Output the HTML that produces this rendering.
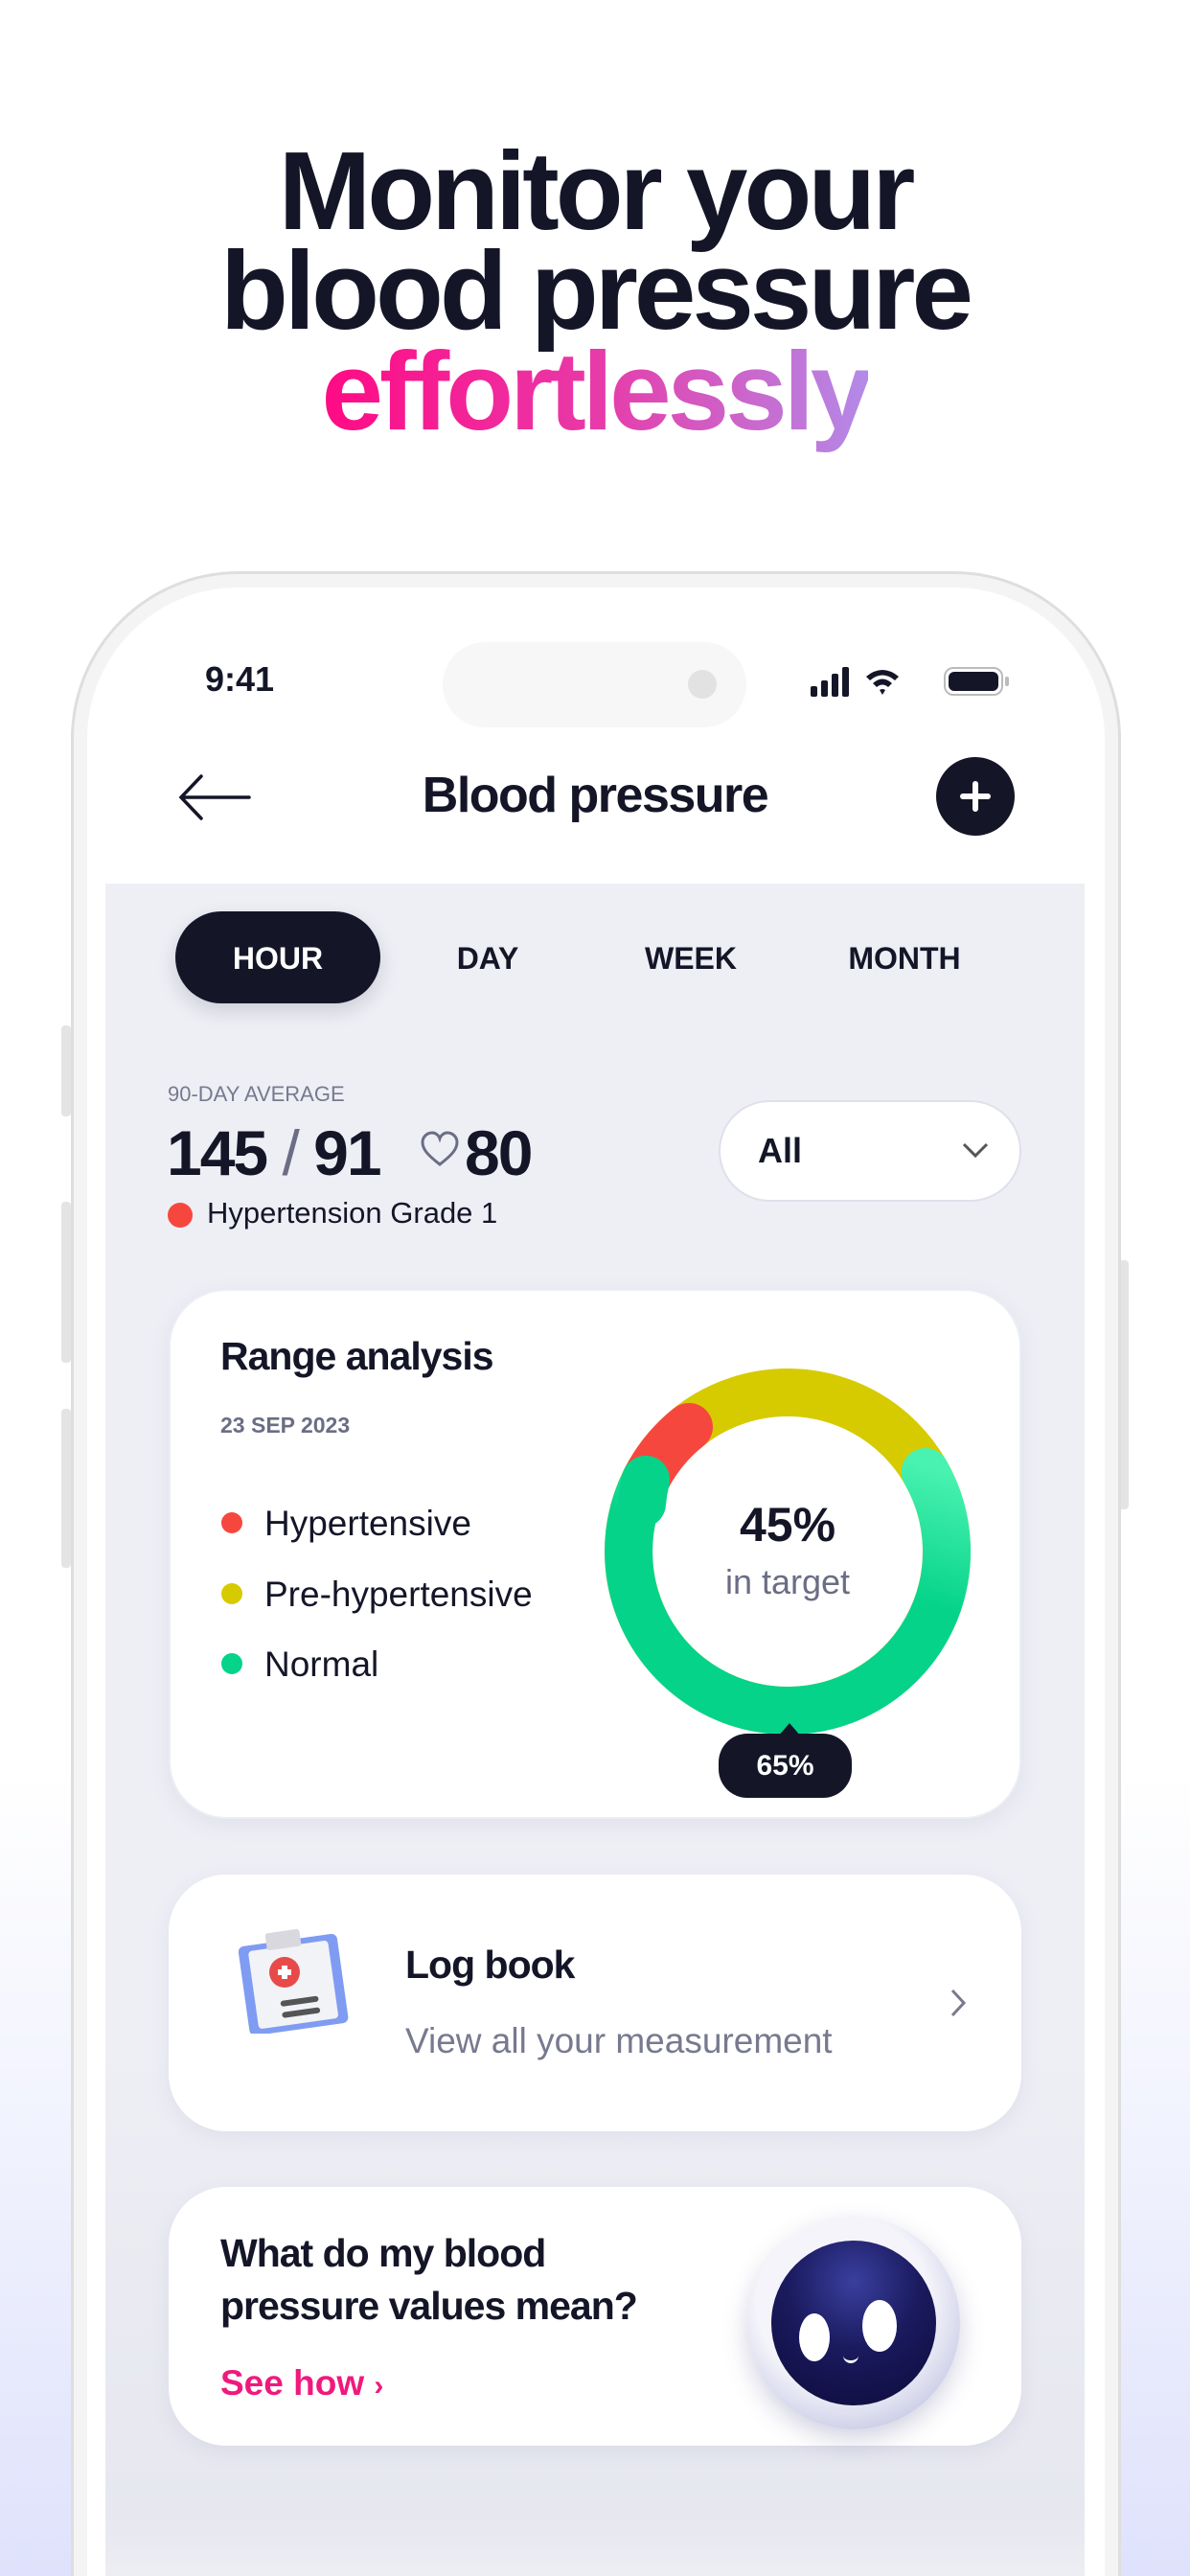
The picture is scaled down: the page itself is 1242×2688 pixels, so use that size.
<!DOCTYPE html>
<html style="width:1242px;height:2688px;overflow:hidden"><head><meta charset="utf-8"><style>
*{margin:0;padding:0;box-sizing:border-box}
body{width:1242px;height:2688px;position:relative;overflow:hidden;font-family:"Liberation Sans",sans-serif;color:#141628;
background:linear-gradient(180deg,#fff 0,#fff 1850px,#eef0fd 2300px,#dfe2fc 2688px);}
.a{position:absolute}
.h{left:0;width:1242px;text-align:center;font-weight:700;font-size:116px;letter-spacing:-4px;line-height:106px}
.grad{background:linear-gradient(90deg,#ff0a85 0%,#e83aa8 50%,#b38ae8 100%);-webkit-background-clip:text;background-clip:text;color:transparent}
.b{font-weight:700}
.card{background:#fff;border-radius:60px;box-shadow:0 6px 20px rgba(120,125,170,.12)}
</style></head><body>
<div class="a h" style="top:146px">Monitor your</div>
<div class="a h" style="top:250px">blood pressure</div>
<div class="a h" style="top:355px"><span class="grad">effortlessly</span></div>

<!-- side buttons -->
<div class="a" style="left:64px;top:1070px;width:10px;height:95px;background:#e4e4e6;border-radius:4px"></div>
<div class="a" style="left:64px;top:1254px;width:10px;height:168px;background:#e4e4e6;border-radius:4px"></div>
<div class="a" style="left:64px;top:1470px;width:10px;height:166px;background:#e4e4e6;border-radius:4px"></div>
<div class="a" style="left:1168px;top:1315px;width:10px;height:260px;background:#e4e4e6;border-radius:4px"></div>

<!-- phone -->
<div class="a" style="left:74px;top:596px;width:1096px;height:2092px;border-radius:175px 175px 0 0;background:#f4f4f5;border:3px solid #dedede;border-bottom:none"></div>
<div class="a" style="left:91px;top:613px;width:1062px;height:2075px;border-radius:158px 158px 0 0;background:#fff;overflow:hidden">
  <div class="a" style="left:19px;top:309px;width:1022px;height:1766px;background:linear-gradient(180deg,#eeeff5 0,#eeeff5 1200px,#e6e7ef 1700px,#eceef3 1766px)"></div>
</div>

<!-- status -->
<div class="a b" style="left:214px;top:688px;font-size:36px">9:41</div>
<div class="a" style="left:462px;top:670px;width:317px;height:89px;border-radius:45px;background:#f7f7f7"></div>
<div class="a" style="left:718px;top:699px;width:30px;height:30px;border-radius:50%;background:#e2e2e2"></div>
<svg class="a" style="left:846px;top:694px" width="215" height="36" viewBox="0 0 215 36">
 <rect x="0" y="22" width="7" height="11" rx="2" fill="#141628"/><rect x="11" y="16" width="7" height="17" rx="2" fill="#141628"/>
 <rect x="22" y="9" width="7" height="24" rx="2" fill="#141628"/><rect x="33" y="2" width="7" height="31" rx="2" fill="#141628"/>
 <path d="M58 12 Q75 -2 92 12 L88 16 Q75 5 62 16Z M65 19 Q75 10 85 19 L81 23 Q75 18 69 23Z M72 26 L75 31 L78 26 Q75 24 72 26Z" fill="#141628"/>
 <rect x="140" y="3" width="60" height="28" rx="9" fill="none" stroke="#bbb" stroke-width="2"/>
 <rect x="144" y="7" width="52" height="20" rx="6" fill="#141628"/><rect x="203" y="12" width="4" height="10" rx="2" fill="#bbb"/>
</svg>

<!-- nav -->
<svg class="a" style="left:186px;top:808px" width="76" height="48" viewBox="0 0 76 48"><path d="M74 24H4 M24 2 L3 24 L24 46" fill="none" stroke="#141628" stroke-width="3.5" stroke-linecap="round"/></svg>
<div class="a b" style="left:0;width:1242px;text-align:center;top:800px;font-size:52px;letter-spacing:-1.5px">Blood pressure</div>
<div class="a" style="left:977px;top:790px;width:82px;height:82px;border-radius:50%;background:#141628"></div>
<div class="a" style="left:1002px;top:828px;width:32px;height:6px;background:#fff;border-radius:3px"></div>
<div class="a" style="left:1015px;top:815px;width:6px;height:32px;background:#fff;border-radius:3px"></div>

<!-- tabs -->
<div class="a" style="left:183px;top:951px;width:214px;height:96px;border-radius:48px;background:#141628;box-shadow:0 8px 20px rgba(20,22,40,.15)"></div>
<div class="a b" style="left:183px;width:214px;text-align:center;top:982px;font-size:32px;color:#fff">HOUR</div>
<div class="a b" style="left:409px;width:200px;text-align:center;top:982px;font-size:32px">DAY</div>
<div class="a b" style="left:621px;width:200px;text-align:center;top:982px;font-size:32px">WEEK</div>
<div class="a b" style="left:844px;width:200px;text-align:center;top:982px;font-size:32px">MONTH</div>

<!-- average -->
<div class="a" style="left:175px;top:1129px;font-size:22px;color:#77798f">90-DAY AVERAGE</div>
<div class="a b" style="left:174px;top:1165px;font-size:66px;letter-spacing:-2px">145 <span style="color:#6b6d85;font-weight:400">/</span> 91</div>
<svg class="a" style="left:438px;top:1180px" width="42" height="38" viewBox="0 0 42 38"><path d="M21 35 C8 25 3 19 3 12 C3 6 8 2 13 2 C17 2 20 5 21 8 C22 5 25 2 29 2 C34 2 39 6 39 12 C39 19 34 25 21 35Z" fill="none" stroke="#6b6d85" stroke-width="3"/></svg>
<div class="a b" style="left:485px;top:1165px;font-size:66px;letter-spacing:-2px">80</div>
<div class="a" style="left:175px;top:1255px;width:26px;height:26px;border-radius:50%;background:#f6473f"></div>
<div class="a" style="left:216px;top:1248px;font-size:31px">Hypertension Grade 1</div>
<div class="a" style="left:750px;top:1148px;width:316px;height:106px;border-radius:53px;background:#fff;border:2px solid #dfe0ea"></div>
<div class="a b" style="left:791px;top:1180px;font-size:36px">All</div>
<svg class="a" style="left:1003px;top:1190px" width="30" height="20" viewBox="0 0 30 20"><path d="M3 4 L15 16 L27 4" fill="none" stroke="#555" stroke-width="3"/></svg>

<!-- range card -->
<div class="a card" style="left:176px;top:1345px;width:890px;height:553px;border:2px solid #eceef4"></div>
<div class="a b" style="left:230px;top:1392px;font-size:41px;letter-spacing:-1px">Range analysis</div>
<div class="a b" style="left:230px;top:1474px;font-size:23px;color:#6b6d85">23 SEP 2023</div>
<div class="a" style="left:231px;top:1578px;width:22px;height:22px;border-radius:50%;background:#f6473f"></div>
<div class="a" style="left:231px;top:1652px;width:22px;height:22px;border-radius:50%;background:#d6cb00"></div>
<div class="a" style="left:231px;top:1725px;width:22px;height:22px;border-radius:50%;background:#05d38a"></div>
<div class="a" style="left:276px;top:1569px;font-size:37px">Hypertensive</div>
<div class="a" style="left:276px;top:1643px;font-size:37px">Pre-hypertensive</div>
<div class="a" style="left:276px;top:1716px;font-size:37px">Normal</div>
<svg class="a" style="left:622px;top:1419px" width="400" height="400" viewBox="0 0 400 400">
 <defs><linearGradient id="g" x1="1" y1="0" x2="0.6" y2="1"><stop offset="0" stop-color="#49f2b0"/><stop offset="0.5" stop-color="#05d38a"/></linearGradient></defs>
 <circle cx="200" cy="200" r="166" fill="none" stroke="#d6cb00" stroke-width="50"/>
 <path d="M343.8 117 A166 166 0 1 1 52 125" fill="none" stroke="url(#g)" stroke-width="50" stroke-linecap="round"/>
 <path d="M52 125 A166 166 0 0 1 97 70" fill="none" stroke="#f6473f" stroke-width="50" stroke-linecap="round"/>
 <path d="M48 150 A166 166 0 0 1 52 125" fill="none" stroke="#05d38a" stroke-width="50" stroke-linecap="round"/>
</svg>
<div class="a b" style="left:722px;width:200px;text-align:center;top:1562px;font-size:50px">45%</div>
<div class="a" style="left:722px;width:200px;text-align:center;top:1630px;font-size:36px;color:#6b6d85">in target</div>
<div class="a" style="left:812px;top:1798px;width:0;height:0;border-left:12px solid transparent;border-right:12px solid transparent;border-bottom:14px solid #141628"></div>
<div class="a b" style="left:750px;top:1809px;width:139px;height:67px;border-radius:30px;background:#141628;color:#fff;font-size:30px;text-align:center;line-height:67px">65%</div>

<!-- log book -->
<div class="a card" style="left:176px;top:1956px;width:890px;height:268px"></div>
<svg class="a" style="left:246px;top:2010px" width="120" height="112" viewBox="0 0 120 112">
 <rect x="8" y="14" width="104" height="94" rx="6" fill="#7f9cf2" transform="rotate(-8 60 60)"/>
 <rect x="18" y="20" width="84" height="82" rx="4" fill="#f2f3f6" transform="rotate(-8 60 60)"/>
 <rect x="38" y="4" width="36" height="18" rx="3" fill="#d8d8de" transform="rotate(-8 60 60)"/>
 <circle cx="51" cy="48" r="16" fill="#e84a4a"/><rect x="44" y="45" width="14" height="6" fill="#fff"/><rect x="48" y="41" width="6" height="14" fill="#fff"/>
 <rect x="44" y="76" width="40" height="6" rx="3" fill="#555" transform="rotate(-8 60 60)"/><rect x="44" y="88" width="40" height="6" rx="3" fill="#555" transform="rotate(-8 60 60)"/>
</svg>
<div class="a b" style="left:423px;top:2027px;font-size:41px;letter-spacing:-1px">Log book</div>
<div class="a" style="left:423px;top:2109px;font-size:37px;color:#77798f">View all your measurement</div>
<svg class="a" style="left:990px;top:2074px" width="20" height="32" viewBox="0 0 20 32"><path d="M4 3 L16 16 L4 29" fill="none" stroke="#77798f" stroke-width="3"/></svg>

<!-- bp card -->
<div class="a card" style="left:176px;top:2282px;width:890px;height:270px"></div>
<div class="a b" style="left:230px;top:2324px;font-size:41px;letter-spacing:-1px;line-height:55px">What do my blood<br>pressure values mean?</div>
<div class="a b" style="left:230px;top:2466px;font-size:37px;color:#f0197d">See how <span style="font-size:30px">&#8250;</span></div>
<div class="a" style="left:780px;top:2313px;width:222px;height:222px;border-radius:50%;background:radial-gradient(circle at 45% 40%,#f4f4fa 50%,#a9acd6 100%);box-shadow:0 10px 25px rgba(80,80,140,.25)"></div>
<div class="a" style="left:805px;top:2338px;width:172px;height:172px;border-radius:50%;background:radial-gradient(circle at 50% 25%,#3a3f9e 0%,#1a1a5e 45%,#0d0b3a 100%)"></div>
<div class="a" style="left:834px;top:2414px;width:32px;height:50px;border-radius:50%;background:#fff"></div>
<div class="a" style="left:900px;top:2400px;width:36px;height:54px;border-radius:50%;background:#fff"></div>
<div class="a" style="left:880px;top:2458px;width:16px;height:8px;border-bottom:3px solid #fff;border-radius:0 0 10px 10px"></div>
</body></html>
